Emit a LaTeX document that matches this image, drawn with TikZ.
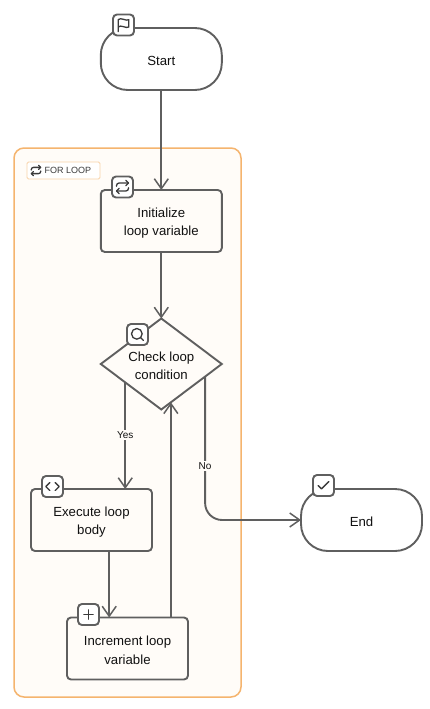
\documentclass[tikz,border=0pt]{standalone}
\usepackage{fontspec}
\setmainfont{Liberation Sans}
\usetikzlibrary{arrows.meta,shapes.geometric}
\definecolor{linegray}{HTML}{5F5F5F}
\definecolor{icongray}{HTML}{3A3A3A}
\definecolor{groupfill}{HTML}{FFFCF8}
\definecolor{groupedge}{HTML}{F5B46E}
\definecolor{textc}{HTML}{111111}
\newcommand{\Top}{\rule{0pt}{13.6pt}}
\tikzset{
  flowbase/.style={draw=linegray,line width=1.9pt,inner sep=0pt,outer sep=0pt,align=center,text=textc,
    font=\fontsize{13.2}{18.5}\selectfont},
  boxnode/.style={flowbase,rectangle,rounded corners=4pt,minimum width=121pt,minimum height=62pt,fill=groupfill},
  termnode/.style={flowbase,rectangle,rounded corners=27pt,minimum width=121pt,minimum height=62pt,fill=white},
  dianode/.style={flowbase,diamond,aspect=1.33,minimum width=121pt,minimum height=91pt,fill=groupfill},
  iconbox/.style={draw=linegray,line width=1.9pt,fill=white,rounded corners=4pt,minimum size=21pt,inner sep=0pt,outer sep=0pt},
  conn/.style={draw=linegray,line width=1.9pt},
  arr/.style={conn,-{Straight Barb[length=10pt,width=14pt,line width=1.5pt]}},
  edgelabel/.style={fill=groupfill,inner xsep=1pt,inner ysep=2pt,text=textc,font=\fontsize{10}{12}\selectfont},
  glyph/.style={draw=icongray,line width=1.3pt,line cap=round,line join=round},
  iconat/.style={shift={(#1)},x=.667pt,y=-.667pt,shift={(-12,-12)}}
}
\newcommand{\glyphRepeat}[2][iconat]{\begin{scope}[#1=#2]
  \draw[glyph] (17,2) -- (21,6) -- (17,10);
  \draw[glyph] (3,11) -- (3,10) .. controls (3,7.8) and (4.8,6) .. (7,6) -- (21,6);
  \draw[glyph] (7,22) -- (3,18) -- (7,14);
  \draw[glyph] (21,13) -- (21,14) .. controls (21,16.2) and (19.2,18) .. (17,18) -- (3,18);
\end{scope}}
\begin{document}
\begin{tikzpicture}[x=1pt,y=-1pt]
\useasboundingbox (0,0) rectangle (429,709);
\fill[white] (0,0) rectangle (429,709);
% group
\node[draw=groupedge,line width=1.5pt,fill=groupfill,rounded corners=10pt,minimum width=227pt,minimum height=549pt,inner sep=0pt,outer sep=0pt] (group) at (127.5,422.5) {};
\node[draw=groupedge!60,line width=.8pt,fill=white,rounded corners=1.5pt,minimum width=73pt,minimum height=17pt,inner sep=0pt,outer sep=0pt] (grouplabel) at (63.5,170.5) {};
\node[anchor=west,inner sep=0pt,text=icongray,font=\fontsize{9}{11}\selectfont] (grouptext) at (44.5,170.5) {FOR LOOP};
% nodes
\node[termnode] (start) at (161.3,59) {\Top Start};
\node[boxnode] (init) at (161.3,221) {\Top Initialize\\loop variable};
\node[dianode] (dia) at (161.3,364) {\Top Check loop\\condition};
\node[boxnode] (exec) at (91.5,520) {\Top Execute loop\\body};
\node[boxnode] (incr) at (127.5,648.5) {\Top Increment loop\\variable};
\node[termnode] (endn) at (361.5,520) {\Top End};
\coordinate (exincx) at (109.2,600);
% connectors
\draw[arr] (start.south) -- (init.north);
\draw[arr] (init.south) -- (dia.north);
\draw[arr] (dia.207.6) -- (dia.207.6 |- exec.north);
\draw[arr] (exec.south -| exincx) -- (incr.north -| exincx);
\draw[arr] (incr.north -| dia.-76.8) -- (dia.-76.8);
\draw[arr,rounded corners=17pt] (dia.-16.2) |- (endn.west);
\node[edgelabel] (yes) at (dia.207.6 |- 0,435) {Yes};
\node[edgelabel] (no) at (dia.-16.2 |- 0,466) {No};
% icon boxes
\node[iconbox] (iStart) at (123.5,25) {};
\node[iconbox] (iInit) at (122.5,187) {};
\node[iconbox] (iDia) at (137.5,334.5) {};
\node[iconbox] (iExec) at (52.5,486.5) {};
\node[iconbox] (iIncr) at (88.5,614.5) {};
\node[iconbox] (iEnd) at (323.5,485.5) {};
% glyphs
\begin{scope}[iconat=iStart.center]
  \draw[glyph] (4,22) -- (4,4) .. controls (6,2.5) and (9,2) .. (12,3.5) .. controls (15,5) and (18,5) .. (20,4) -- (20,15) .. controls (18,16) and (15,16) .. (12,14.5) .. controls (9,13) and (6,13.5) .. (4,15);
\end{scope}
\glyphRepeat{iInit.center}
\begin{scope}[iconat=iDia.center]
  \draw[glyph] (11,11) circle[radius=8];
  \draw[glyph] (21,21) -- (16.65,16.65);
\end{scope}
\begin{scope}[iconat=iExec.center]
  \draw[glyph] (16,18) -- (22,12) -- (16,6);
  \draw[glyph] (8,6) -- (2,12) -- (8,18);
\end{scope}
\begin{scope}[iconat=iIncr.center]
  \draw[glyph] (5,12) -- (19,12);
  \draw[glyph] (12,5) -- (12,19);
\end{scope}
\begin{scope}[iconat=iEnd.center]
  \draw[glyph] (20,6) -- (9,17) -- (4,12);
\end{scope}
\begin{scope}[shift={(36,170.5)},x=.52pt,y=-.52pt,shift={(-12,-12)}]
  \draw[glyph] (17,2) -- (21,6) -- (17,10);
  \draw[glyph] (3,11) -- (3,10) .. controls (3,7.8) and (4.8,6) .. (7,6) -- (21,6);
  \draw[glyph] (7,22) -- (3,18) -- (7,14);
  \draw[glyph] (21,13) -- (21,14) .. controls (21,16.2) and (19.2,18) .. (17,18) -- (3,18);
\end{scope}
\end{tikzpicture}
\end{document}
